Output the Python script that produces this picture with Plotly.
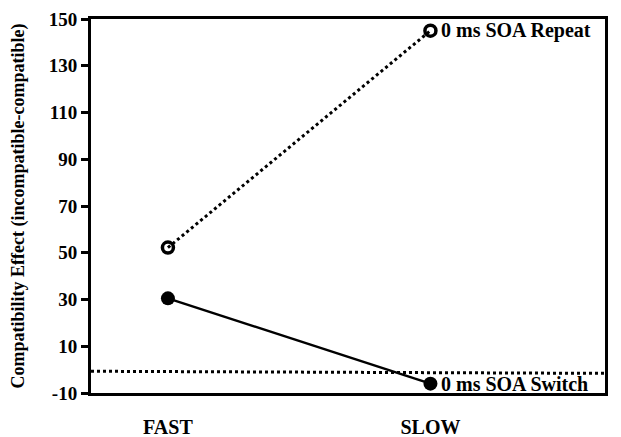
import plotly.graph_objects as go

categories = ["FAST", "SLOW"]
repeat_vals = [52.2, 145.0]
switch_vals = [30.5, -6.0]
series_names = ["0 ms SOA Repeat", "0 ms SOA Switch"]
ref_line_y = [-0.7, -1.6]
y_ticks = [-10, 10, 30, 50, 70, 90, 110, 130, 150]
y_title = "Compatibility Effect (incompatible-compatible)"

xpos = list(range(len(categories)))
FONT = "Liberation Serif"

fig = go.Figure()
fig.add_trace(go.Scatter(
    x=xpos, y=repeat_vals, mode="lines+markers", name=series_names[0],
    line=dict(color="black", width=3, dash="dot"),
    marker=dict(symbol="circle-open", size=11, color="black", line=dict(width=3.5)),
    cliponaxis=False,
))
fig.add_trace(go.Scatter(
    x=xpos, y=switch_vals, mode="lines+markers", name=series_names[1],
    line=dict(color="black", width=2.5),
    marker=dict(symbol="circle", size=14, color="black"),
    cliponaxis=False,
))
fig.add_shape(type="line", xref="paper", yref="y", x0=0, x1=1,
              y0=ref_line_y[0], y1=ref_line_y[1],
              line=dict(color="black", width=3, dash="dot"))

for name, vals in zip(series_names, [repeat_vals, switch_vals]):
    fig.add_annotation(x=xpos[-1], y=vals[-1], text="<b>%s</b>" % name,
                       showarrow=False, xanchor="left", yanchor="middle",
                       xshift=9, font=dict(family=FONT, size=20, color="black"))

fig.update_layout(
    width=613, height=429,
    margin=dict(l=83, r=16, t=11, b=44),
    paper_bgcolor="white", plot_bgcolor="white",
    showlegend=False,
    font=dict(family=FONT, color="black"),
)
fig.update_xaxes(
    range=[-0.293, 1.665], tickvals=xpos,
    ticktext=["<b>%s</b>" % c for c in categories],
    ticks="", showgrid=False, zeroline=False, automargin=False,
    showline=True, linecolor="black", linewidth=3, mirror=True,
    tickfont=dict(family=FONT, size=20, color="black"),
    ticklabelstandoff=14,
)
fig.update_yaxes(
    range=[-10, 150], tickvals=y_ticks,
    ticktext=["<b>%d</b>" % v for v in y_ticks],
    ticks="outside", ticklen=7, tickwidth=2.5, tickcolor="black",
    showgrid=False, zeroline=False, automargin=False,
    showline=True, linecolor="black", linewidth=3, mirror=True,
    tickfont=dict(family=FONT, size=19, color="black"),
    title=dict(text="<b>%s</b>" % y_title, font=dict(family=FONT, size=18, color="black"),
               standoff=28),
)

fig.write_html("out.html")
